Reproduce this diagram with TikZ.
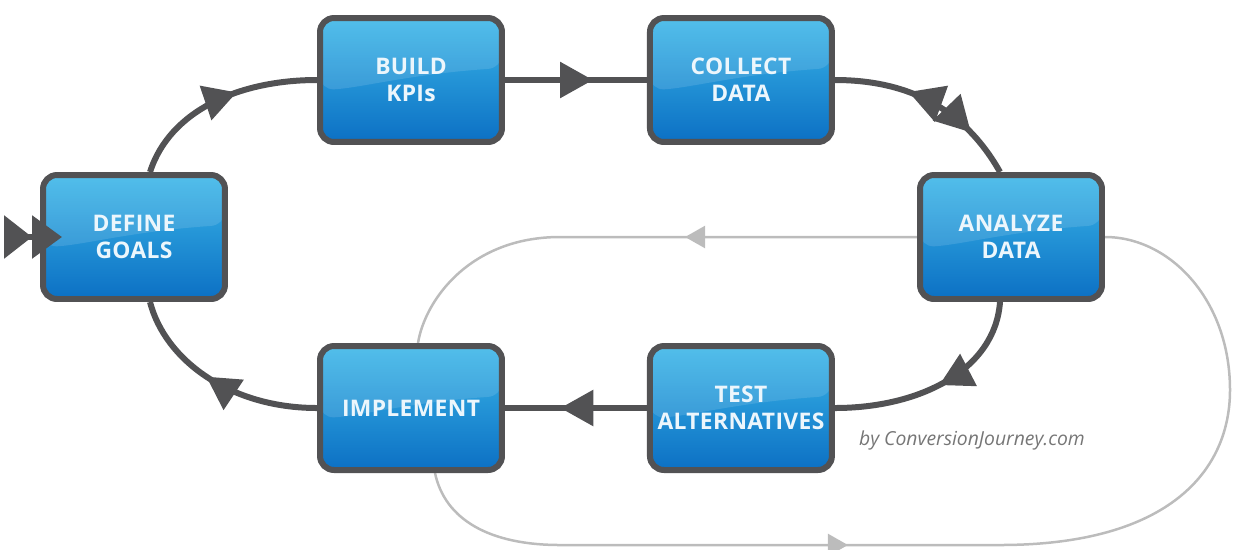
\documentclass[tikz,border=0pt]{standalone}
\usepackage{fontspec}
\setmainfont{Open Sans}
\newfontfamily\stagefont[LetterSpace=1.5]{Open Sans}
\usepackage{tikz}
\usetikzlibrary{arrows.meta, positioning, calc, backgrounds, decorations.markings}

\definecolor{boxtop}{RGB}{58,182,232}
\definecolor{boxbottom}{RGB}{12,112,196}
\definecolor{rimgray}{RGB}{82,82,84}
\definecolor{loopgray}{RGB}{188,188,188}
\definecolor{credgray}{RGB}{118,118,118}
\definecolor{labelwhite}{RGB}{236,246,252}

\begin{document}
\begin{tikzpicture}[
    x=0.02cm, y=-0.02cm,
    stage/.style={rectangle, rounded corners=0.28cm, minimum width=3.64cm, minimum height=2.48cm, inner sep=0pt, align=center, draw=rimgray, line width=0.12cm, top color=boxtop, bottom color=boxbottom, text=labelwhite, font=\stagefont\bfseries\fontsize{13}{15.5}\selectfont,
        path picture={\fill[white, opacity=0.12] (path picture bounding box.north west) -- (path picture bounding box.north east) -- ($(path picture bounding box.north east)+(0,50)$) .. controls ($(path picture bounding box.north)+(0,56)$) and ($(path picture bounding box.north west)+(40,70)$) .. ($(path picture bounding box.north west)+(0,72)$) -- cycle;}},
    cycleline/.style={draw=rimgray, line width=0.12cm},
    feedback/.style={draw=loopgray, line width=0.05cm},
    midtip/.style={postaction={decorate, decoration={markings, mark=at position #1 with {\arrow{Triangle[length=0.66cm, width=0.7cm]}}}}},
    softtip/.style={postaction={decorate, decoration={markings, mark=at position #1 with {\arrow{Triangle[length=0.4cm, width=0.44cm]}}}}},
    bowtie/.style={postaction={decorate, decoration={markings,
        mark=at position 1.5cm with {\arrowreversed{Triangle[length=0.7cm, width=0.74cm]}},
        mark=at position 3.0cm with {\arrow{Triangle[length=0.7cm, width=0.74cm]}}}}}
]
\useasboundingbox (0,0) rectangle (1233,549);

% Stages of the cycle
\node (define) [stage] at (134,237) {DEFINE\\GOALS};
\node (build) [stage] at (411,80) {BUILD\\KPIs};
\node (collect) [stage, right=2.84cm of build] {COLLECT\\DATA};
\node (analyze) [stage] at (1011,237) {ANALYZE\\DATA};
\node (implement) [stage] at (411,408) {IMPLEMENT};
\node (test) [stage, right=2.84cm of implement] {TEST\\ALTERNATIVES};

\node (credit) at (972,440) [font=\itshape\fontsize{11}{13}\selectfont, text=credgray] {by ConversionJourney.com};

% Feedback loop behind the boxes
\begin{scope}[on background layer]
    \draw [feedback, softtip=4.64cm] (analyze.west) -- (560,237) .. controls (470,237) and (425,300) .. ($(implement.north)+(7,0)$);
    \draw [feedback, softtip=8.9cm] ($(implement.south)+(24,0)$) .. controls (445,520) and (490,545) .. (560,545) -- (1000,545) .. controls (1170,545) and (1230,470) .. (1230,390) .. controls (1230,300) and (1170,237) .. (analyze.east);
\end{scope}

% Main cycle
\draw [cycleline, midtip=0.6] ($(define.north)+(16,0)$) .. controls (170,110) and (240,80) .. (build.west);
\draw [cycleline, midtip=0.62] (build) -- (collect);
\draw [cycleline, bowtie] (collect.east) .. controls (910,80) and (965,110) .. ($(analyze.north)+(-11,0)$);
\draw [cycleline, midtip=0.5] ($(analyze.south)+(-11,0)$) .. controls (995,370) and (920,408) .. (test.east);
\draw [cycleline, midtip=0.61] (test) -- (implement);
\draw [cycleline, midtip=0.55] (implement.west) .. controls (230,408) and (165,360) .. ($(define.south)+(16,0)$);

% Entry arrow
\coordinate (entry) at (6,237);
\draw [cycleline, -{Triangle[length=0.56cm, width=0.84cm] Triangle[length=0.6cm, width=0.84cm]}] (entry) -- ($(define.west)+(22,0)$);
\end{tikzpicture}
\end{document}
